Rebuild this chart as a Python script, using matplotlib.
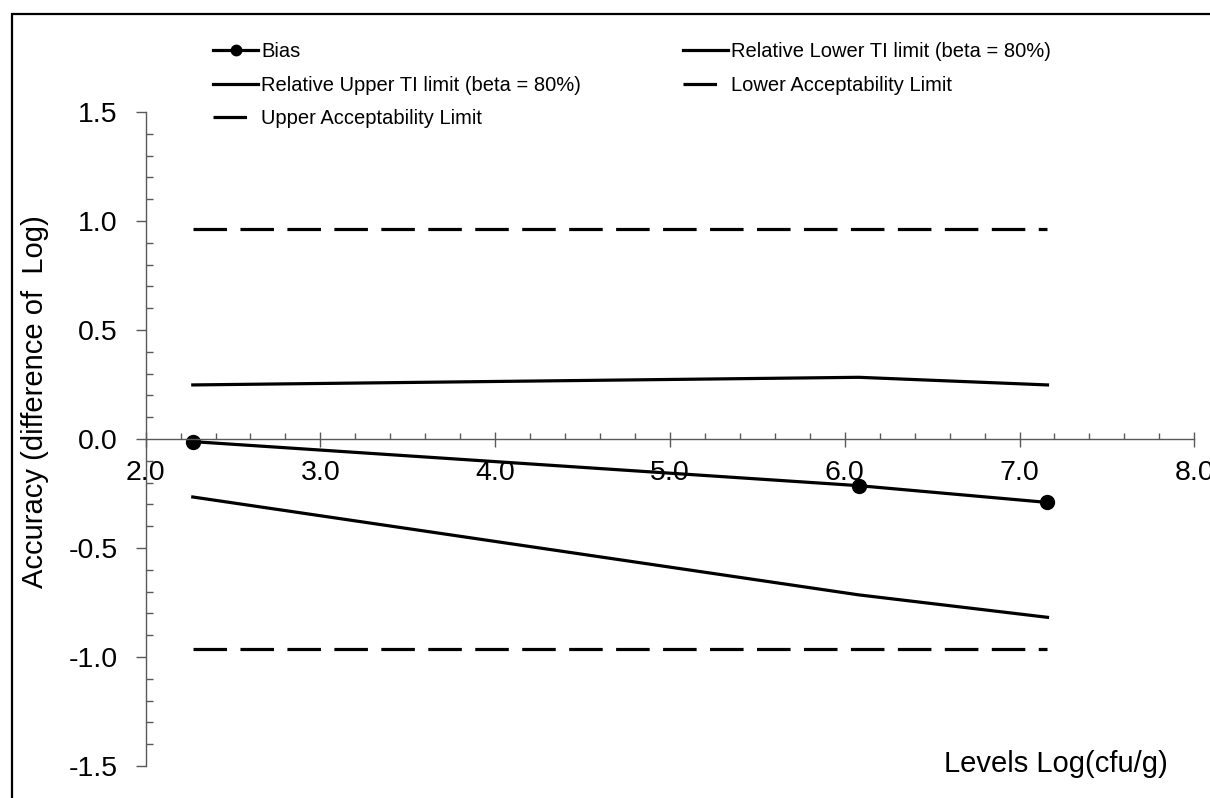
"""Accuracy profile: bias, tolerance interval and acceptability limits."""

import matplotlib

matplotlib.use("Agg")
import matplotlib.pyplot as plt
from matplotlib.patches import Rectangle
from matplotlib.ticker import FormatStrFormatter, MultipleLocator

plt.rcParams["font.family"] = ["Liberation Sans", "DejaVu Sans"]

# levels (log cfu/g) and accuracy values
levels = [2.27, 6.08, 7.16]
bias = [-0.012, -0.214, -0.291]
upper_ti = [0.248, 0.283, 0.248]
lower_ti = [-0.266, -0.715, -0.818]
lower_acc = [-0.965, -0.965, -0.965]
upper_acc = [0.965, 0.965, 0.965]

AXIS_GREY = "#595959"
W, H = 1210, 798

fig = plt.figure(figsize=(W / 100, H / 100), dpi=100)
ax = fig.add_axes([145.6 / W, 1 - 766 / H, (1194.3 - 145.6) / W, (766 - 112) / H])

lw = 2.3
dashes = (10.5, 4.2)
h_bias, = ax.plot(levels, bias, color="black", lw=lw, marker="o", markersize=10, label="Bias")
h_lti, = ax.plot(levels, lower_ti, color="black", lw=lw, label="Relative Lower TI limit (beta = 80%)")
h_uti, = ax.plot(levels, upper_ti, color="black", lw=lw, label="Relative Upper TI limit (beta = 80%)")
h_lacc, = ax.plot(levels, lower_acc, color="black", lw=lw, dashes=dashes, label="Lower Acceptability Limit")
h_uacc, = ax.plot(levels, upper_acc, color="black", lw=lw, dashes=dashes, label="Upper Acceptability Limit")

ax.set_xlim(2.0, 8.0)
ax.set_ylim(-1.5, 1.5)

ax.spines["top"].set_visible(False)
ax.spines["right"].set_visible(False)
ax.spines["bottom"].set_position(("data", 0))
for side in ("left", "bottom"):
    ax.spines[side].set_color(AXIS_GREY)
    ax.spines[side].set_linewidth(1.0)

ax.xaxis.set_major_locator(MultipleLocator(1.0))
ax.xaxis.set_minor_locator(MultipleLocator(0.2))
ax.yaxis.set_major_locator(MultipleLocator(0.5))
ax.yaxis.set_minor_locator(MultipleLocator(0.1))
ax.xaxis.set_major_formatter(FormatStrFormatter("%.1f"))
ax.yaxis.set_major_formatter(FormatStrFormatter("%.1f"))

ax.tick_params(axis="x", which="major", direction="inout", length=10.8, width=1,
               color=AXIS_GREY, pad=10, labelsize=20.5)
ax.tick_params(axis="x", which="minor", direction="in", length=4.3, width=1, color=AXIS_GREY)
ax.tick_params(axis="y", which="major", direction="out", length=7.2, width=1,
               color=AXIS_GREY, pad=13, labelsize=20.5)
ax.tick_params(axis="y", which="minor", direction="in", length=5, width=1, color=AXIS_GREY)

fig.text(35 / W, 1 - 402 / H, "Accuracy (difference of  Log)", rotation=90,
         ha="center", va="center", fontsize=21)
fig.text(1168 / W, 1 - 772 / H, "Levels Log(cfu/g)", ha="right", va="baseline", fontsize=21)

fig.legend([h_bias, h_uti, h_uacc, h_lti, h_lacc],
           [h.get_label() for h in (h_bias, h_uti, h_uacc, h_lti, h_lacc)],
           ncol=2, loc="upper left", bbox_to_anchor=(213 / W, 1 - 42 / H),
           frameon=False, fontsize=14.5, handlelength=2.24, handletextpad=0.15,
           labelspacing=0.73, columnspacing=5.07, borderpad=0, borderaxespad=0,
           markerscale=0.75)

# chart-area border, cut off at the right and bottom like the source
fig.add_artist(Rectangle((12 / W, -0.1), 1.2, 1 - 14 / H + 0.1, transform=fig.transFigure,
                         fill=False, edgecolor="black", lw=1.6))

fig.savefig("out.png", dpi=100)
